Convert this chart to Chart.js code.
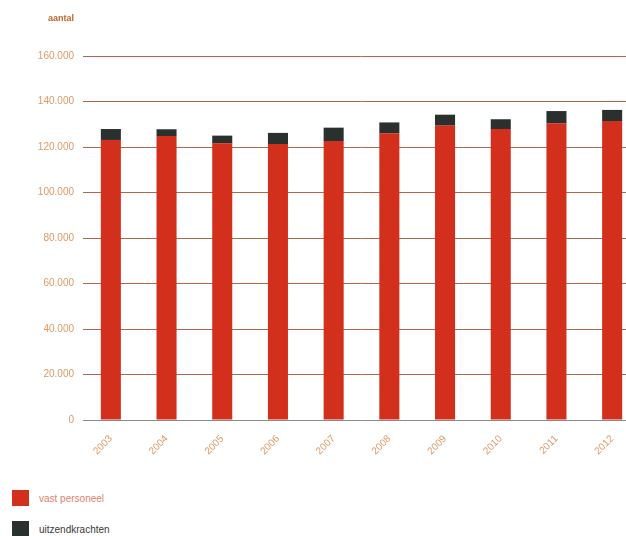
<!DOCTYPE html>
<html>
<head>
<meta charset="utf-8">
<script src="https://cdn.jsdelivr.net/npm/chart.js@4"></script>
<style>
  html, body { margin: 0; padding: 0; background: #fff; overflow: hidden; width: 626px; height: 536px; }
  #chart { position: absolute; left: 0; top: 0; }
  #legend { position: absolute; left: 12px; top: 490px; font-family: 'Liberation Sans', Arial, sans-serif; font-size: 10px; }
  .row { display: flex; align-items: center; height: 16px; margin-bottom: 15px; }
  .box { width: 17px; height: 16px; margin-right: 10px; }
</style>
</head>
<body>
<canvas id="chart" width="640" height="470"></canvas>
<div id="legend"></div>
<script>
// data
const years = ['2003', '2004', '2005', '2006', '2007', '2008', '2009', '2010', '2011', '2012'];
const vastPersoneel = [123100, 124800, 121600, 121300, 122600, 126000, 129400, 127900, 130400, 131400];
const uitzendkrachten = [4800, 3000, 3400, 4900, 5900, 4800, 4800, 4300, 5400, 4900];
const seriesNames = ['vast personeel', 'uitzendkrachten'];
const yMax = 160000;
const yStep = 20000;

const red = '#d2301d';
const dark = '#2a302d';
const tickColor = '#dc9964';

const fmt = v => String(v).replace(/\B(?=(\d{3})+(?!\d))/g, '.');

// "aantal" label above the value axis
const axisLabel = {
    id: 'axisLabel',
    afterDraw(chart) {
        const ctx = chart.ctx;
        const y = chart.scales.y;
        ctx.save();
        ctx.font = 'bold 9px "Liberation Sans", Arial, sans-serif';
        ctx.fillStyle = '#c0652e';
        ctx.textAlign = 'right';
        ctx.textBaseline = 'middle';
        ctx.fillText('aantal', y.right - 9, 19);
        ctx.restore();
    }
};

const chart = new Chart(document.getElementById('chart'), {
    type: 'bar',
    data: {
        labels: years,
        datasets: [
            { label: seriesNames[0], data: vastPersoneel, backgroundColor: red },
            { label: seriesNames[1], data: uitzendkrachten, backgroundColor: dark },
        ],
    },
    options: {
        responsive: false,
        animation: false,
        devicePixelRatio: 1,
        layout: { padding: { top: 56, right: 0, bottom: 0, left: 0 } },
        datasets: { bar: { categoryPercentage: 1, barPercentage: 0.36 } },
        plugins: { legend: { display: false }, tooltip: { enabled: false } },
        scales: {
            x: {
                stacked: true,
                grid: { display: false },
                border: { display: false },
                ticks: {
                    color: tickColor,
                    font: { family: '"Liberation Sans", Arial, sans-serif', size: 10 },
                    minRotation: 45,
                    maxRotation: 45,
                    padding: 5,
                },
                afterFit(scale) { scale.height = 50; },
            },
            y: {
                stacked: true,
                min: 0,
                max: yMax,
                border: { display: false },
                grid: {
                    drawTicks: false,
                    lineWidth: 1,
                    color: c => (c.tick && c.tick.value === 0) ? '#8d8a88' : '#b8654d',
                },
                ticks: {
                    stepSize: yStep,
                    padding: 9,
                    color: tickColor,
                    font: { family: '"Liberation Sans", Arial, sans-serif', size: 10 },
                    callback: v => fmt(v),
                },
                afterFit(scale) { scale.width = 83; },
            },
        },
    },
    plugins: [axisLabel],
});

// legend built from the datasets
const legend = document.getElementById('legend');
const legendText = ['#e4826e', '#3a3a3a'];
chart.data.datasets.forEach((ds, i) => {
    const row = document.createElement('div');
    row.className = 'row';
    const box = document.createElement('span');
    box.className = 'box';
    box.style.background = ds.backgroundColor;
    const txt = document.createElement('span');
    txt.textContent = ds.label;
    txt.style.color = legendText[i];
    row.appendChild(box);
    row.appendChild(txt);
    legend.appendChild(row);
});
</script>
</body>
</html>
